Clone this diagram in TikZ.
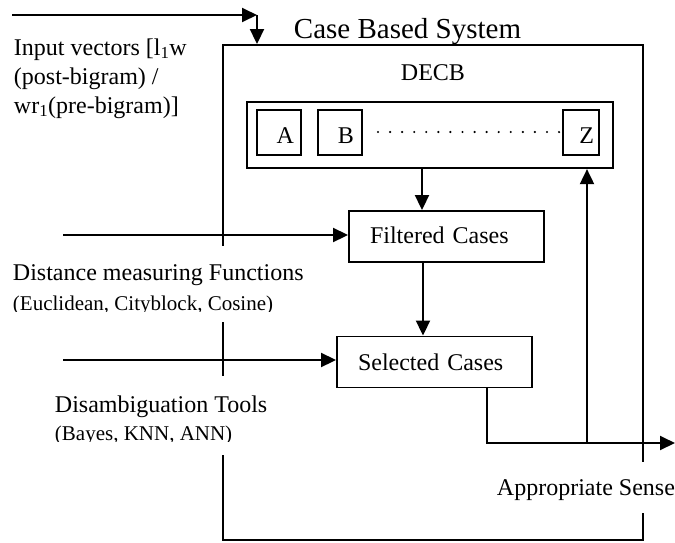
\documentclass[tikz,border=0pt]{standalone}
\usepackage{fontspec}
\setmainfont{Liberation Serif}
\usetikzlibrary{arrows.meta}
\begin{document}
\begin{tikzpicture}[x=1pt,y=-1pt, line width=1.9pt,
  arr/.style={-{Triangle[length=15pt,width=14pt]}},
  box/.style={draw, inner sep=0pt},
  big/.style={font=\fontsize{24}{28}\selectfont},
  small/.style={font=\fontsize{21}{25}\selectfont},
  txt/.style={inner sep=0pt, anchor=base west},
  letterbox/.style={box, big, minimum height=45pt, align=right, text height=21pt, text depth=0pt},
  casebox/.style={box, big, minimum height=51pt, text width=153pt, inner xsep=21pt, inner ysep=0pt, align=left, text depth=0pt}]
\fill[white] (0,0) rectangle (675,542);
\useasboundingbox (0,0) rectangle (675,542);

% outer system box
\node[box, minimum width=420pt, minimum height=495pt] (sys) at (433,292.5) {};
% gaps in the box edges under the labels
\fill[white] (215,246) rectangle (231,322);
\fill[white] (215,376) rectangle (231,455);
\fill[white] (635,462) rectangle (651,513);

% DECB strip
\node[box, line width=2.2pt, minimum width=366pt, minimum height=66pt] (strip) at (430,135) {};
\node[letterbox, minimum width=44pt, text width=30pt] (ba) at (279,132.5) {A};
\node[letterbox, minimum width=44pt, text width=28pt] (bb) at (340,132.5) {B};
\node[letterbox, minimum width=36pt, text width=26pt] (bz) at (581,132.5) {Z};
\foreach \i in {0,...,15} \fill (378+\i*12.07,132) circle (1.2pt);

% case boxes
\node[casebox, text height=13pt] (filt) at (446.5,236.5) {Filtered Cases};
\node[casebox, text height=16pt] (sel) at (434.5,362) {Selected Cases};

% texts
\node[txt, font=\fontsize{29}{34}\selectfont] (title) at (293,38) {Case Based System};
\node[txt, big] (decb) at (400,80) {DECB};
\node[txt, big] (in1) at (13,55) {Input vectors [l\textsubscript{1}w};
\node[txt, big] (in2) at (13,84) {(post-bigram) /};
\node[txt, big] (in3) at (13,113) {wr\textsubscript{1}(pre-bigram)]};
\node[txt, big] (dist1) at (12,280) {Distance measuring Functions};
\begin{scope}
\clip (0,285) rectangle (330,311);
\node[txt, small] (dist2) at (12,310) {(Euclidean, Cityblock, Cosine)};
\end{scope}
\node[txt, big] (dis1) at (54,412) {Disambiguation Tools};
\begin{scope}
\clip (0,418) rectangle (330,441);
\node[txt, small] (dis2) at (54,440) {(Bayes, KNN, ANN)};
\end{scope}
\node[txt, big] (sense) at (496,495) {Appropriate Sense};

% connectors
\coordinate (tin) at (12,15);
\coordinate (tc) at (257,15);
\draw[arr] (tin) -- (tc);
\draw[arr] (tc) -- (tc |- sys.north);
\draw[arr] ([xshift=-8pt]strip.south) -- ([xshift=-8pt]strip.south |- filt.north);
\draw[arr] ([xshift=-23.5pt]filt.south) -- ([xshift=-23.5pt]filt.south |- sel.north);
\coordinate (din) at (63,235);
\draw[arr] (din) -- (din -| filt.west);
\coordinate (sin) at (63,360);
\draw[arr] (sin) -- (sin -| sel.west);
\coordinate (out) at (675,443);
\draw[arr] ([xshift=52.5pt]sel.south) |- (out);
\coordinate (j) at (587,443);
\draw[arr] (j) -- (j |- strip.south);
\end{tikzpicture}
\end{document}
